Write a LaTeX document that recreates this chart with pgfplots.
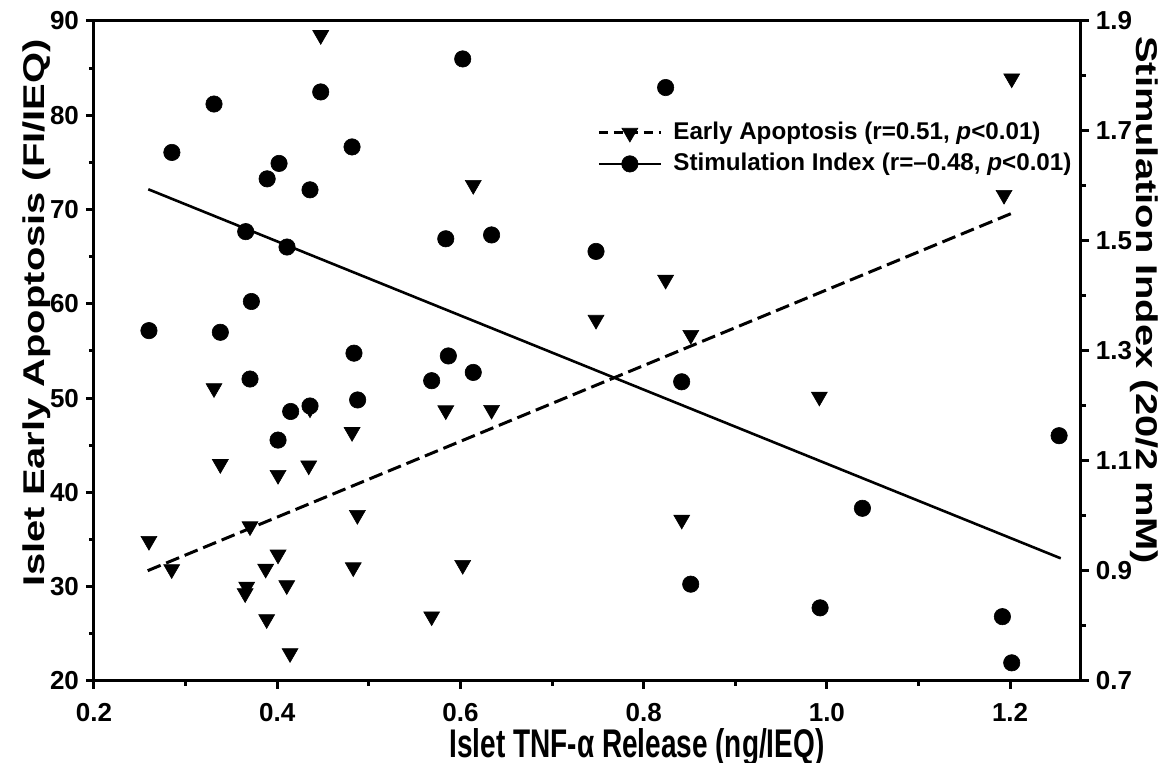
\documentclass[border=0pt]{standalone}
\usepackage{fontspec}
\setmainfont{Liberation Sans}
\newfontfamily\ylabfont[FakeStretch=1.33]{Liberation Sans}
\newfontfamily\xlabfont[FakeStretch=0.70]{Liberation Sans}
\usepackage{pgfplots}
\pgfplotsset{compat=1.18}

\begin{document}
\begin{tikzpicture}
\useasboundingbox (-47pt,-41pt) rectangle (537pt,340.5pt);
\begin{axis}[
  at={(0,0)}, anchor=south west,
  scale only axis, width=493.4pt, height=330pt,
  xmin=0.2, xmax=1.2772, ymin=20, ymax=90,
  axis line style={line width=1.5pt,-},
  xtick={0.2,0.4,0.6,0.8,1.0,1.2}, minor xtick={0.3,0.5,0.7,0.9,1.1},
  ytick={20,30,40,50,60,70,80,90}, minor ytick={25,35,45,55,65,75,85},
  tick style={line width=1.5pt, black},
  major tick length=4pt, minor tick length=2.5pt,
  tick align=outside, xtick pos=bottom, ytick pos=left,
  /pgf/number format/assume math mode=true,
  tick label style={font=\bfseries\fontsize{13}{14}\selectfont},
  xticklabel style={yshift=-3.5pt, /pgf/number format/fixed, /pgf/number format/fixed zerofill, /pgf/number format/precision=1},
  xlabel={Islet TNF-α Release (ng/IEQ)},
  ylabel={Islet Early Apoptosis (FI/IEQ)},
  every axis x label/.style={at={(rel axis cs:0.5503,-0.1152)}, anchor=base, font=\xlabfont\bfseries\fontsize{20}{22}\selectfont},
  every axis y label/.style={at={(rel axis cs:-0.0502,0.5576)}, anchor=base, rotate=90, font=\ylabfont\bfseries\fontsize{15}{18}\selectfont},
  legend style={at={(rel axis cs:0.5097,0.85)}, anchor=north west, draw=none, fill=none, inner sep=0pt, row sep=3pt,
    font=\bfseries\fontsize{12.1}{15}\selectfont,
    nodes={inner sep=0pt, text height=9.5pt, text depth=3pt},
    /tikz/every odd column/.append style={column sep=5.5pt}},
  legend cell align=left,
  legend image code/.code={\draw[mark repeat=2,mark phase=2,#1] plot coordinates {(0pt,0pt)(15.5pt,0pt)(31pt,0pt)};},
]
\addlegendimage{black, line width=1.5pt, dash pattern=on 4.5pt off 3pt, mark=triangle*, mark size=4.6pt, mark options={solid, rotate=180, fill=black, line width=0.3pt}}
\addlegendentry{Early Apoptosis (r=0.51, \textit{p}<0.01)}
\addlegendimage{black, line width=1.3pt, mark=*, mark size=4.1pt, mark options={solid, fill=black, line width=0.3pt}}
\addlegendentry{Stimulation Index (r=–0.48, \textit{p}<0.01)}

\addplot[forget plot, only marks, mark=triangle*, mark size=4.6pt, mark options={rotate=180, fill=black, draw=black, line width=0.3pt}] coordinates {
(0.4475,88.5) (0.614,72.6) (0.824,62.55) (0.748,58.3) (0.8515,56.7)
(0.331,51.05) (0.584,48.7) (0.4358,48.9) (0.4817,46.4) (0.3379,43.0)
(0.4009,41.85) (0.4344,42.85) (0.4875,37.6) (0.260,34.85) (0.3703,36.4)
(0.4009,33.4) (0.2848,31.85) (0.3874,31.9) (0.483,32.05) (0.6025,32.3)
(0.4104,30.15) (0.3667,30.0) (0.365,29.3) (0.3885,26.55) (0.5686,26.85)
(0.414,22.95) (0.634,48.75) (0.9918,50.15) (0.8416,37.1) (1.2018,83.9)
(1.1934,71.55)
};
\addplot[forget plot, black, line width=1.5pt, dash pattern=on 7pt off 3pt, no marks] coordinates {(0.2586,31.7) (1.2018,69.6)};
\end{axis}

\begin{axis}[
  at={(0,0)}, anchor=south west,
  scale only axis, width=493.4pt, height=330pt,
  xmin=0.2, xmax=1.2772, ymin=0.7, ymax=1.9,
  axis x line=none, axis y line*=right,
  axis line style={line width=1.5pt,-},
  ytick={0.7,0.9,1.1,1.3,1.5,1.7,1.9}, minor ytick={0.8,1.0,1.2,1.4,1.6,1.8},
  tick style={line width=1.5pt, black},
  major tick length=4pt, minor tick length=2.5pt,
  tick align=outside, ytick pos=right,
  /pgf/number format/assume math mode=true,
  tick label style={font=\bfseries\fontsize{13}{14}\selectfont},
  yticklabel style={/pgf/number format/fixed, /pgf/number format/fixed zerofill, /pgf/number format/precision=1},
  ylabel={Stimulation Index (20/2 mM)},
  every axis y label/.style={at={(rel axis cs:1.0560,0.5773)}, anchor=base, rotate=-90, font=\ylabfont\bfseries\fontsize{15}{18}\selectfont},
]
\addplot[only marks, mark=*, mark size=4.1pt, mark options={fill=black, draw=black, line width=0.3pt}] coordinates {
(0.6025,1.831) (0.4475,1.771) (0.331,1.749) (0.285,1.661) (0.4817,1.671)
(0.402,1.641) (0.389,1.613) (0.4358,1.593) (0.584,1.504) (0.3656,1.517)
(0.4107,1.489) (0.3718,1.390) (0.260,1.337) (0.3379,1.334) (0.4838,1.296)
(0.5868,1.291) (0.614,1.261) (0.824,1.779) (0.634,1.511) (0.748,1.481)
(0.3703,1.249) (0.5686,1.246) (0.4878,1.211) (0.4147,1.190) (0.4358,1.200)
(0.4009,1.138) (0.8415,1.244) (0.8514,0.876) (0.9926,0.833) (1.0388,1.014)
(1.2535,1.146) (1.1916,0.817) (1.2018,0.733)
};
\addplot[black, line width=1.3pt, no marks] coordinates {(0.2593,1.594) (1.2553,0.923)};
\end{axis}
\end{tikzpicture}
\end{document}
